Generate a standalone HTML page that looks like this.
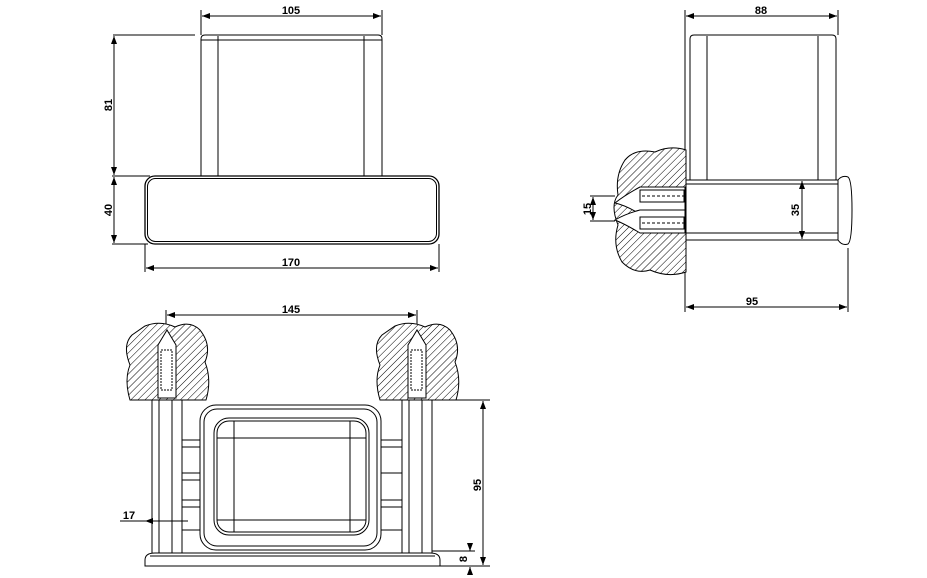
<!DOCTYPE html>
<html><head><meta charset="utf-8"><style>
html,body{margin:0;padding:0;background:#fff}
svg{display:block}
text{font-family:"Liberation Sans",sans-serif;font-weight:bold;font-size:11px;fill:#000}
</style></head><body>
<svg width="927" height="578" viewBox="0 0 927 578" xmlns="http://www.w3.org/2000/svg">
<defs>
<pattern id="h" width="5" height="5" patternUnits="userSpaceOnUse" patternTransform="rotate(45)">
<rect width="5" height="5" fill="#fff"/><line x1="0" y1="0" x2="0" y2="5" stroke="#000" stroke-width="1"/></pattern>
<marker id="a" markerWidth="8" markerHeight="6" refX="8" refY="3" orient="auto-start-reverse" markerUnits="userSpaceOnUse"><path d="M0,0 L8,3 L0,6 z" fill="#000"/></marker>
</defs>
<g fill="none" stroke="#000" stroke-width="1">
<!-- FRONT VIEW -->
<line x1="201" y1="10" x2="201" y2="35"/><line x1="382" y1="10" x2="382" y2="35"/>
<line x1="202" y1="16" x2="381" y2="16" marker-start="url(#a)" marker-end="url(#a)"/>
<path d="M201,176 V39 Q201,35 205,35 H378 Q382,35 382,39 V176"/>
<line x1="201" y1="40" x2="382" y2="40"/>
<line x1="218" y1="36" x2="218" y2="176"/><line x1="364" y1="36" x2="364" y2="176"/>
<rect x="145" y="176" width="294" height="68" rx="10" stroke-width="1.3"/>
<rect x="147.5" y="178.5" width="289" height="63" rx="8"/>
<line x1="113" y1="35" x2="195" y2="35"/><line x1="112" y1="176" x2="150" y2="176"/><line x1="112" y1="244" x2="148" y2="244"/>
<line x1="114" y1="36" x2="114" y2="175" marker-start="url(#a)" marker-end="url(#a)"/>
<line x1="114" y1="177" x2="114" y2="243" marker-start="url(#a)" marker-end="url(#a)"/>
<line x1="145" y1="244" x2="145" y2="272"/><line x1="439" y1="244" x2="439" y2="272"/>
<line x1="146" y1="268" x2="438" y2="268" marker-start="url(#a)" marker-end="url(#a)"/>
<!-- SIDE VIEW -->
<line x1="685" y1="10" x2="685" y2="180"/><line x1="838" y1="10" x2="838" y2="35"/>
<line x1="686" y1="16" x2="837" y2="16" marker-start="url(#a)" marker-end="url(#a)"/>
<path d="M690,180 V39 Q690,35 694,35 H832 Q836,35 836,39 V180"/>
<line x1="707" y1="36" x2="707" y2="180"/><line x1="818" y1="36" x2="818" y2="180"/>
<path d="M685,180 H838 M685,184 H838 M685,233 H838 M685,240 H838 M838,180 V240"/>
<path d="M838,180 Q842,175 848,177 Q852,180 852,210 Q852,241 848,244 Q842,246 838,240"/>
<path d="M686,150 Q670,145 655,152 Q635,148 625,160 Q615,175 618,195 Q610,205 618,225 Q612,245 622,262 Q635,275 650,270 Q668,278 686,272 Z" fill="url(#h)"/>
<g fill="#fff"><path d="M685,187 H640 Q625,195 615,203 Q625,205 640,214 H685Z"/><path d="M685,210 H640 Q625,214 615,220 Q625,224 640,233 H685Z"/></g>
<rect x="640" y="190" width="44" height="12" fill="#fff"/><rect x="640" y="217" width="44" height="12" fill="#fff"/>
<path d="M642,196 H684 M642,223 H684" stroke-dasharray="3,2"/>
<line x1="802" y1="181" x2="802" y2="239" marker-start="url(#a)" marker-end="url(#a)"/>
<line x1="590" y1="196" x2="615" y2="196"/><line x1="590" y1="221" x2="615" y2="221"/>
<line x1="593" y1="197" x2="593" y2="220" marker-start="url(#a)" marker-end="url(#a)"/>
<line x1="685" y1="272" x2="685" y2="312"/><line x1="848" y1="248" x2="848" y2="312"/>
<line x1="686" y1="307" x2="847" y2="307" marker-start="url(#a)" marker-end="url(#a)"/>
<!-- BOTTOM VIEW -->
<line x1="166" y1="310" x2="166" y2="340"/><line x1="417" y1="310" x2="417" y2="340"/>
<line x1="167" y1="315" x2="416" y2="315" marker-start="url(#a)" marker-end="url(#a)"/>
<path d="M145,326 Q160,320 175,327 Q190,320 200,330 Q212,345 205,362 Q212,380 206,400 H130 Q124,380 130,365 Q122,345 132,335 Z" fill="url(#h)"/>
<path d="M395,326 Q410,320 425,327 Q440,320 450,330 Q462,345 455,362 Q462,380 456,400 H380 Q374,380 380,365 Q372,345 382,335 Z" fill="url(#h)"/>
<path d="M158,398 V345 L167,330 L176,345 V398Z" fill="#fff"/>
<path d="M408,398 V345 L417,330 L426,345 V398Z" fill="#fff"/>
<rect x="161" y="350" width="11" height="40" fill="#fff" stroke-dasharray="2,1"/>
<rect x="411" y="350" width="11" height="40" fill="#fff" stroke-dasharray="2,1"/>
<path d="M152,400 V553 M159,400 V553 M172,400 V553 M182,400 V553"/>
<path d="M402,400 V553 M409,400 V553 M422,400 V553 M432,400 V553"/>
<path d="M182,440 H200 M182,447 H200 M182,473 H200 M182,480 H200 M182,500 H200 M182,507 H200 M182,530 H200"/>
<path d="M381,440 H402 M381,447 H402 M381,473 H402 M381,500 H402 M381,507 H402 M381,530 H402"/>
<rect x="200" y="405" width="181" height="145" rx="16"/>
<rect x="204" y="409" width="173" height="137" rx="13"/>
<rect x="214" y="418" width="155" height="117" rx="15"/>
<rect x="217" y="421" width="149" height="111" rx="12"/>
<path d="M234,421 V532 M350,421 V532 M217,438 H366 M217,520 H366"/>
<path d="M145,566 V560 Q145,553 155,553 H430 Q440,553 440,560 V566 Z"/>
<line x1="150" y1="556" x2="435" y2="556"/>
<line x1="455" y1="400" x2="490" y2="400"/><line x1="440" y1="566" x2="490" y2="566"/><line x1="432" y1="551" x2="475" y2="551"/>
<line x1="483" y1="401" x2="483" y2="565" marker-start="url(#a)" marker-end="url(#a)"/>
<line x1="470" y1="545" x2="470" y2="551" marker-end="url(#a)"/>
<line x1="470" y1="575" x2="470" y2="567" marker-end="url(#a)"/>
<line x1="145" y1="521" x2="188" y2="521" marker-start="url(#a)"/>
<line x1="120" y1="521" x2="145" y2="521"/>
</g>
<text x="291" y="14" text-anchor="middle">105</text>
<text x="291" y="266" text-anchor="middle">170</text>
<text x="761" y="14" text-anchor="middle">88</text>
<text x="752" y="305" text-anchor="middle">95</text>
<text x="291" y="313" text-anchor="middle">145</text>
<text x="129" y="519" text-anchor="middle">17</text>
<text transform="translate(112,105) rotate(-90)" text-anchor="middle">81</text>
<text transform="translate(112,210) rotate(-90)" text-anchor="middle">40</text>
<text transform="translate(799,210) rotate(-90)" text-anchor="middle">35</text>
<text transform="translate(591,209) rotate(-90)" text-anchor="middle">15</text>
<text transform="translate(481,485) rotate(-90)" text-anchor="middle">95</text>
<text transform="translate(467,559) rotate(-90)" text-anchor="middle">8</text>
</svg>
</body></html>
